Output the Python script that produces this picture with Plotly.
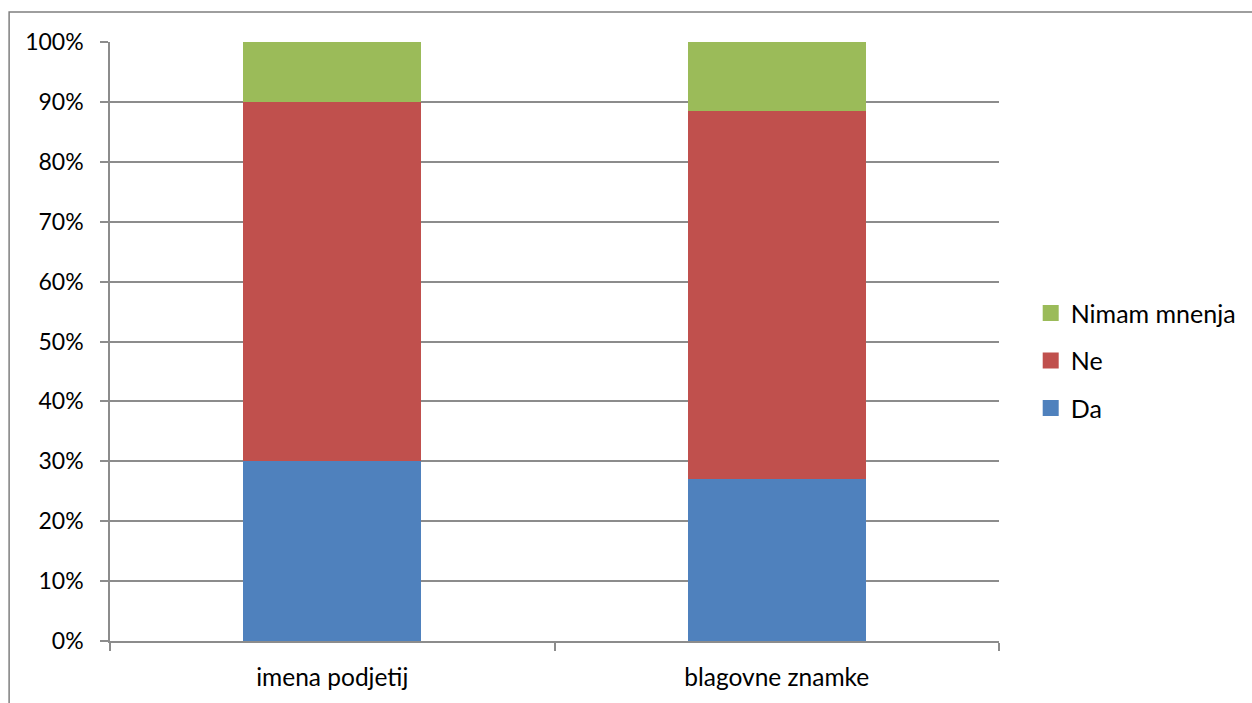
import plotly.graph_objects as go

# Survey answers per category, in percent of respondents
categories = ["imena podjetij", "blagovne znamke"]
da = [30.0, 27.1]
ne = [60.0, 61.4]
nimam_mnenja = [10.0, 11.5]

y_tick_values = [0, 10, 20, 30, 40, 50, 60, 70, 80, 90, 100]
y_tick_labels = [f"{v}%" for v in y_tick_values]

FONT = "Lato"
GRID = "#8c8c8c"

# (name, values, colour, legend position from the top)
series = [
    ("Da", da, "#4f81bd", 3),
    ("Ne", ne, "#c0504d", 2),
    ("Nimam mnenja", nimam_mnenja, "#9bbb59", 1),
]

fig = go.Figure()
for name, values, color, rank in series:
    fig.add_trace(go.Bar(
        x=categories,
        y=values,
        name=name,
        marker=dict(color=color, line=dict(width=0)),
        showlegend=False,
    ))
    # legend proxy with a larger square swatch
    fig.add_trace(go.Scatter(
        x=[None], y=[None], mode="markers", name=name,
        legendgroup=name, legendrank=rank,
        marker=dict(symbol="square", size=16, color=color),
    ))

fig.update_layout(
    width=1252,
    height=703,
    barmode="stack",
    bargap=0.6,
    paper_bgcolor="white",
    plot_bgcolor="white",
    margin=dict(l=110, r=252, t=42, b=62),
    font=dict(family=FONT, size=24, color="#000000"),
    legend=dict(
        traceorder="grouped",
        x=1.0345, xanchor="left",
        y=0.468, yanchor="middle",
        font=dict(family=FONT, size=25),
        itemwidth=30,
        tracegroupgap=12,
        bgcolor="rgba(0,0,0,0)",
    ),
    xaxis=dict(
        showline=True, linecolor=GRID, linewidth=1.5,
        ticks="outside", ticklen=8, tickcolor=GRID, tickwidth=1.5,
        tickson="boundaries",
        ticklabelstandoff=14,
        showgrid=False, zeroline=False,
        tickfont=dict(family=FONT, size=24.5),
    ),
    yaxis=dict(
        range=[0, 100],
        tickvals=y_tick_values,
        ticktext=y_tick_labels,
        showline=True, linecolor=GRID, linewidth=1.5,
        ticks="outside", ticklen=8, tickcolor=GRID, tickwidth=1.5,
        ticklabelstandoff=12,
        showgrid=True, gridcolor=GRID, gridwidth=1.5,
        zeroline=False,
        tickfont=dict(family=FONT, size=23),
    ),
    shapes=[
        # chart frame
        dict(type="rect", xref="paper", yref="paper",
             x0=(9 - 110) / 890, x1=(1260 - 110) / 890,
             y0=(641 - 712) / 599, y1=(641 - 12) / 599,
             line=dict(color="#7f7f7f", width=1.5), layer="below"),
    ],
)

fig.write_html("out.html")
